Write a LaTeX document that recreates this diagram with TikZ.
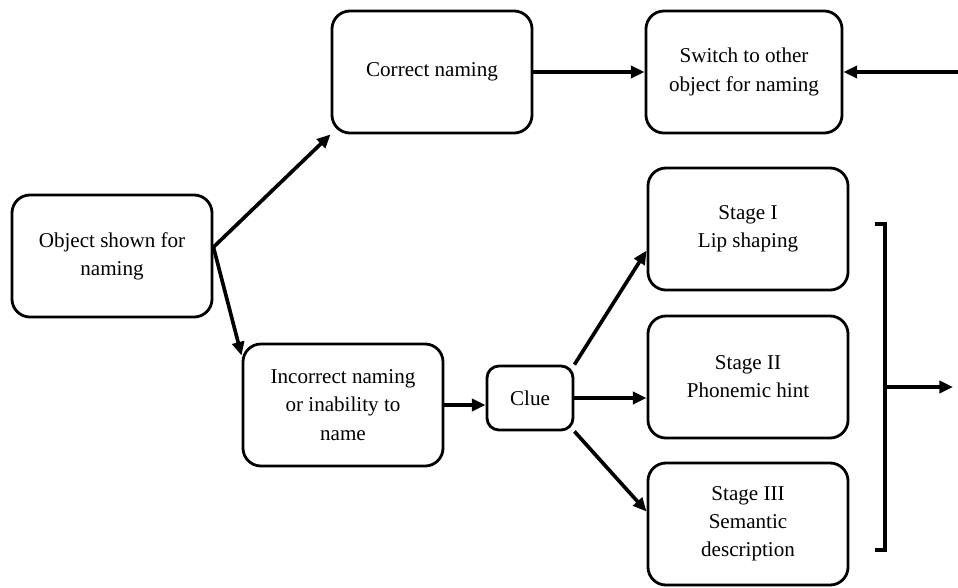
\documentclass[tikz,border=0pt]{standalone}
\usepackage{fontspec}
\setmainfont{Liberation Serif}
\usepackage{tikz}
\usetikzlibrary{arrows.meta,positioning,calc}
\newcommand{\boxfont}{\fontsize{15}{20}\selectfont}

\begin{document}
\begin{tikzpicture}[
    x=0.025cm, y=-0.025cm,
    box/.style={rectangle, draw=black, line width=2pt, rounded corners=0.45cm,
                minimum width=5cm, minimum height=3.05cm, align=center, font=\boxfont},
    arr/.style={-{Triangle[length=3.4mm,width=3mm]}, line width=2.6pt}
]
\useasboundingbox (0,0) rectangle (958,587);

\node[box] (obj) at (112,256) {Object shown for\\naming};
\node[box] (corr) at (432,72) {Correct naming};
\node[box, minimum width=4.9cm] (sw) at (744,72) {Switch to other\\object for naming};
\node[box] (inc) at (343,405) {Incorrect naming\\or inability to\\name};
\node[box, minimum width=2.15cm, minimum height=1.6cm, rounded corners=0.3cm] (clue) at (530,398) {Clue};
\node[box] (s1) at (748,229) {Stage I\\Lip shaping};
\node[box] (s2) at (748,377) {Stage II\\Phonemic hint};
\node[box] (s3) at (748,524) {Stage III\\Semantic\\description};

% incoming from the right and the bracket
\coordinate (back) at (958,72);
\coordinate (btop) at (875,224);
\coordinate (bbot) at (875,550);
\coordinate (bmid) at (885,387);
\coordinate (out) at (953,387);

\draw[arr] (obj.5) -- (corr.south west);
\draw[arr] (obj.5) -- (inc.154);
\draw[arr] (corr) -- (sw);
\draw[arr] (back) -- (sw);
\draw[arr] (inc.east) -- (inc.east -| clue.west);
\draw[arr] (clue.north east) -- (s1.192);
\draw[arr] (clue.east) -- (clue.east -| s2.west);
\draw[arr] (clue.south east) -- (s3.173);

\draw[line width=2.6pt] (btop) -- ++(10,0) |- (bbot);
\draw[arr] (bmid) -- (out);
\end{tikzpicture}
\end{document}
